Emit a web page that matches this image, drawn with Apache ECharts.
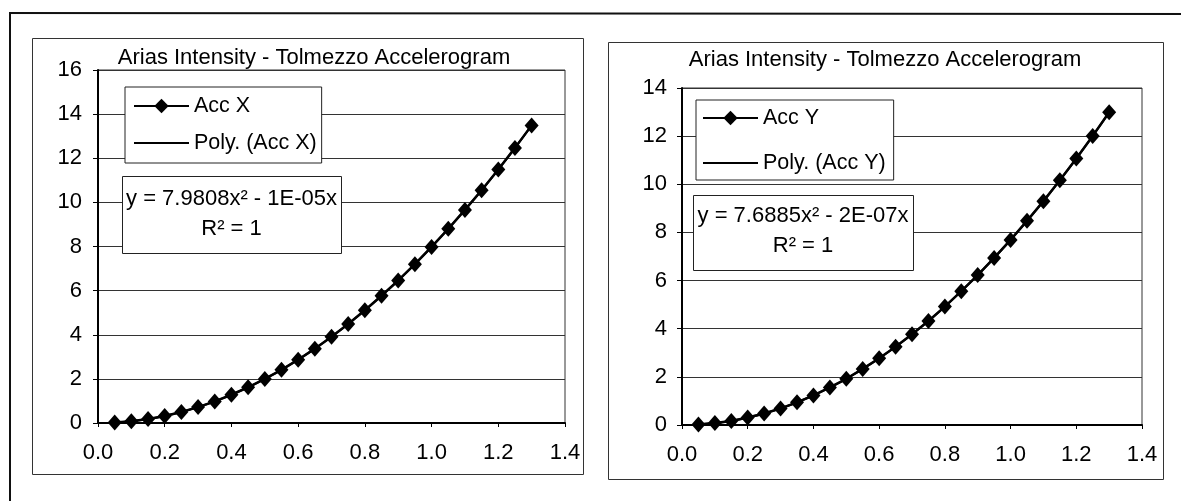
<!DOCTYPE html>
<html>
<head>
<meta charset="utf-8">
<script src="https://cdn.jsdelivr.net/npm/echarts@6/dist/echarts.min.js"></script>
<style>
html,body{margin:0;padding:0;background:#fff;}
#c{width:1181px;height:501px;}
</style>
</head>
<body>
<div id="c"></div>
<script>
// ---- data ----
var xs = [0.05,0.10,0.15,0.20,0.25,0.30,0.35,0.40,0.45,0.50,0.55,0.60,0.65,0.70,0.75,0.80,0.85,0.90,0.95,1.00,1.05,1.10,1.15,1.20,1.25,1.30];
var accX = [0.02,0.08,0.18,0.32,0.50,0.72,0.98,1.28,1.62,2.00,2.41,2.87,3.37,3.91,4.49,5.11,5.77,6.46,7.20,7.98,8.80,9.66,10.55,11.49,12.47,13.49];
var accY = [0.02,0.08,0.17,0.31,0.48,0.69,0.94,1.23,1.56,1.92,2.33,2.77,3.25,3.77,4.32,4.92,5.56,6.23,6.94,7.69,8.48,9.30,10.17,11.07,12.01,12.99];
var chartTitle = 'Arias Intensity - Tolmezzo Accelerogram';
var yName = '[m/s]';
var seriesNames = ['Acc X', 'Poly. (Acc X)', 'Acc Y', 'Poly. (Acc Y)'];
var equations = ['y = 7.9808x\u00B2 - 1E-05x', 'y = 7.6885x\u00B2 - 2E-07x'];
var r2Text = 'R\u00B2 = 1';
var xRange = [0, 1.4, 0.2];
var yRangeX = [0, 16, 2];
var yRangeY = [0, 14, 2];

function pairs(x, y) { return x.map(function (v, i) { return [v, y[i]]; }); }

var FONT = "'Liberation Sans', Arial, sans-serif";
var FS = 22;
var LINE_ICON = 'path://M0,0H55V2H0Z';

function xAxisCfg(gi) {
  return {
    type: 'value', gridIndex: gi, min: xRange[0], max: xRange[1], interval: xRange[2],
    axisLine: { show: true, lineStyle: { color: '#000', width: 2 } },
    axisTick: { show: true, length: 4, lineStyle: { color: '#000', width: 1 } },
    axisLabel: { color: '#000', fontSize: FS, fontFamily: FONT, margin: 19, lineHeight: 22,
      formatter: function (v) { return v.toFixed(1); } },
    splitLine: { show: false }
  };
}
function yAxisCfg(gi, r, margin) {
  return {
    type: 'value', gridIndex: gi, min: r[0], max: r[1], interval: r[2],
    axisLine: { show: true, lineStyle: { color: '#000', width: 2 } },
    axisTick: { show: true, length: 5, lineStyle: { color: '#000', width: 1 } },
    axisLabel: { color: '#000', fontSize: FS, fontFamily: FONT, margin: margin },
    splitLine: { show: true, lineStyle: { color: '#333', width: 1 } }
  };
}
function dataSeries(name, gi, y) {
  return {
    name: name, type: 'line', xAxisIndex: gi, yAxisIndex: gi,
    data: pairs(xs, y), symbol: 'diamond', symbolSize: [14, 16],
    itemStyle: { color: '#000' }, lineStyle: { color: '#000', width: 2.5 },
    z: 4, animation: false
  };
}
function polySeries(name, gi, y) {
  return {
    name: name, type: 'line', xAxisIndex: gi, yAxisIndex: gi,
    data: pairs(xs, y), symbol: 'none', smooth: true,
    itemStyle: { color: '#000' }, lineStyle: { color: '#000', width: 2 },
    z: 3, animation: false
  };
}
function legendCfg(names, left, top, padding, gap) {
  return {
    orient: 'vertical', left: left, top: top,
    data: [{ name: names[0] }, { name: names[1], icon: LINE_ICON }],
    padding: padding, itemGap: gap, itemWidth: 55, itemHeight: 18,
    backgroundColor: '#fff', borderColor: '#222', borderWidth: 1,
    textStyle: { color: '#000', fontSize: 21.5, fontFamily: FONT, lineHeight: 24 },
    selectedMode: false
  };
}
function txt(text, x, y, extra) {
  var s = { text: text, x: x, y: y, fill: '#000', fontSize: FS, fontFamily: FONT, align: 'center', verticalAlign: 'middle' };
  var el = { type: 'text', style: s, z: 10 };
  if (extra) for (var k in extra) el[k] = extra[k];
  return el;
}
function box(x, y, w, h, color, lw, z) {
  return { type: 'rect', shape: { x: x, y: y, width: w, height: h },
    style: { fill: 'rgba(0,0,0,0)', stroke: color, lineWidth: lw }, z: z || 1, silent: true };
}

var chart = echarts.init(document.getElementById('c'), null, { renderer: 'canvas' });
chart.setOption({
  backgroundColor: '#fff',
  animation: false,
  grid: [
    { left: 98, top: 70, width: 467, height: 353, show: true, borderColor: '#333', borderWidth: 1, backgroundColor: 'rgba(0,0,0,0)' },
    { left: 682, top: 88, width: 460, height: 337, show: true, borderColor: '#333', borderWidth: 1, backgroundColor: 'rgba(0,0,0,0)' }
  ],
  xAxis: [xAxisCfg(0), xAxisCfg(1)],
  yAxis: [yAxisCfg(0, yRangeX, 16), yAxisCfg(1, yRangeY, 15)],
  legend: [
    legendCfg([seriesNames[0], seriesNames[1]], 125, 87, [7, 5, 8, 8], 13),
    legendCfg([seriesNames[2], seriesNames[3]], 696, 100, [6, 8, 5, 6], 21)
  ],
  series: [
    dataSeries(seriesNames[0], 0, accX),
    polySeries(seriesNames[1], 0, accX),
    dataSeries(seriesNames[2], 1, accY),
    polySeries(seriesNames[3], 1, accY)
  ],
  graphic: [
    // outer frame (top and left edges)
    { type: 'line', shape: { x1: 10, y1: 13, x2: 1181, y2: 14 }, style: { stroke: '#111', lineWidth: 2 }, silent: true },
    { type: 'line', shape: { x1: 10, y1: 12, x2: 10, y2: 501 }, style: { stroke: '#111', lineWidth: 2 }, silent: true },
    // chart boxes
    box(32.5, 38.5, 551, 436, '#333', 1),
    box(608.5, 42.5, 555, 437, '#333', 1),
    // titles
    txt(chartTitle, 314, 58),
    txt(chartTitle, 885, 60),
    // axis names
    txt(yName, 55, 233, { rotation: Math.PI / 2, x: 0, y: 0 }),
    txt(yName, 627, 245, { rotation: Math.PI / 2, x: 0, y: 0 }),
    // equation boxes
    { type: 'rect', shape: { x: 122.5, y: 176.5, width: 219, height: 77 }, style: { fill: '#fff', stroke: '#222', lineWidth: 1 }, z: 9, silent: true },
    txt(equations[0], 231.5, 199),
    txt(r2Text, 231.5, 229),
    { type: 'rect', shape: { x: 693.5, y: 195.5, width: 220, height: 75 }, style: { fill: '#fff', stroke: '#222', lineWidth: 1 }, z: 9, silent: true },
    txt(equations[1], 803, 216),
    txt(r2Text, 803, 246)
  ]
});
</script>
</body>
</html>
